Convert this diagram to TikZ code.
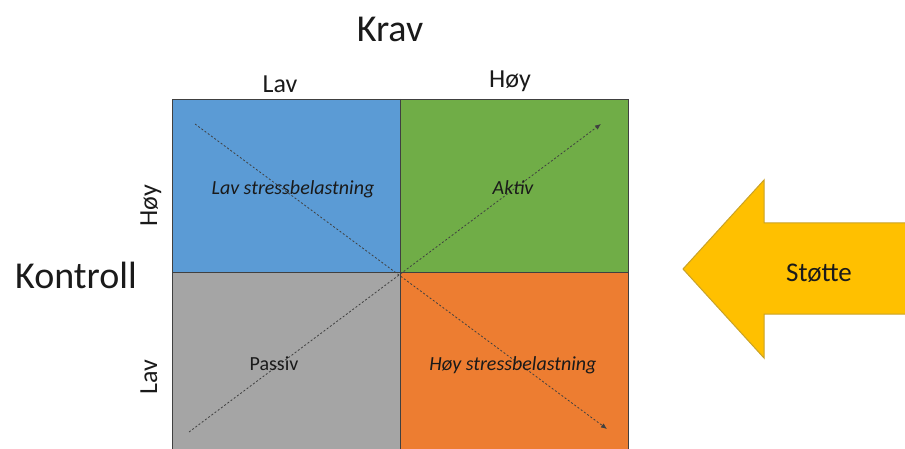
\documentclass[tikz,border=0pt]{standalone}
\usepackage{fontspec}
\setmainfont{Carlito}
\usetikzlibrary{arrows.meta}
\definecolor{qblue}{HTML}{5B9BD5}
\definecolor{qgreen}{HTML}{70AD47}
\definecolor{qgray}{HTML}{A5A5A5}
\definecolor{qorange}{HTML}{ED7D31}
\definecolor{qyellow}{HTML}{FFC000}
\definecolor{qyedge}{HTML}{C9A227}
\definecolor{qline}{HTML}{404040}
\definecolor{qtext}{HTML}{1A1A1A}
\tikzset{
  quad/.style={draw=qline, line width=0.9pt},
  bigtxt/.style={font=\fontsize{38}{44}\selectfont, text=qtext, inner sep=0pt, anchor=base},
  axtxt/.style={font=\fontsize{26}{30}\selectfont, text=qtext, inner sep=0pt},
  qtxt/.style={font=\fontsize{20}{24}\selectfont, text=qtext, inner sep=0pt, anchor=base},
  diag/.style={draw=qline, line width=0.8pt, dash pattern=on 2pt off 2pt, -{Latex[length=6pt,width=5pt]}},
}
\begin{document}
\begin{tikzpicture}[x=1pt,y=-1pt]
\useasboundingbox (0,0) rectangle (905,449);
\clip (0,0) rectangle (905,449);
% quadrants
\fill[qblue] (172,99) rectangle (400,272);
\fill[qgreen] (400,99) rectangle (628,272);
\fill[qgray] (172,272) rectangle (400,460);
\fill[qorange] (400,272) rectangle (628,460);
\draw[quad] (172,460) -- (172,99) -- (628,99) -- (628,460);
\draw[quad] (400,99) -- (400,460);
\draw[quad] (172,272) -- (628,272);
% diagonals
\coordinate (a1) at (195,124);
\coordinate (a2) at (607,429);
\coordinate (b1) at (189,432);
\coordinate (b2) at (601,124);
\draw[diag] (a1) -- (a2);
\draw[diag] (b1) -- (b2);
% quadrant labels
\node[qtxt] (lav) at (293,195) {\itshape Lav stressbelastning};
\node[qtxt] (akt) at (513,195) {\itshape Aktiv};
\node[qtxt] (pas) at (274,370) {Passiv};
\node[qtxt] (hoy) at (513,370) {\itshape Høy stressbelastning};
% axis labels
\node[bigtxt] (krav) at (390,42) {Krav};
\node[bigtxt] (kontroll) at (76,288) {Kontroll};
\node[axtxt, anchor=base] (klav) at (280,93) {Lav};
\node[axtxt, anchor=base] (khoy) at (510,88) {Høy};
\node[axtxt, rotate=90, anchor=base] (chy) at (157,206) {Høy};
\node[axtxt, rotate=90, anchor=base] (clv) at (157,377) {Lav};
% support arrow
\draw[fill=qyellow, draw=qyedge, line width=1pt]
  (683,269) -- (764,180) -- (764,223) -- (915,223) -- (915,314) -- (764,314) -- (764,358) -- cycle;
\node[font=\fontsize{27}{32}\selectfont, text=qtext, inner sep=0pt, anchor=base] (stotte) at (819,281) {Støtte};
\end{tikzpicture}
\end{document}
